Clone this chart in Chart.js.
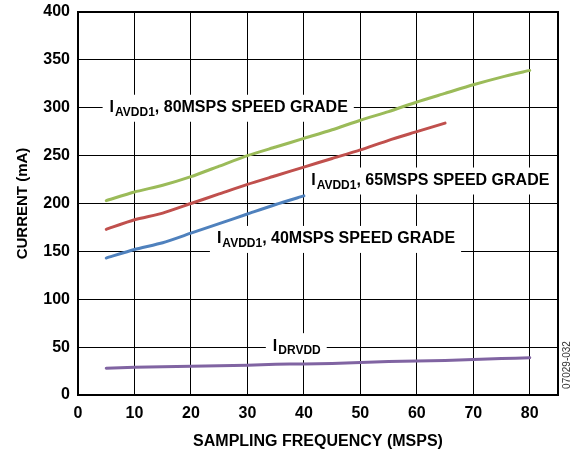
<!DOCTYPE html>
<html>
<head>
<meta charset="utf-8">
<script src="https://cdn.jsdelivr.net/npm/chart.js@4/dist/chart.umd.min.js"></script>
<style>
  html, body { margin: 0; padding: 0; background: #fff; }
  #wrap { width: 574px; height: 453px; }
</style>
</head>
<body>
<div id="wrap"><canvas id="myChart" width="574" height="453"></canvas></div>
<script>
// sampling frequency (MSPS)
const freq80 = [5, 10, 15, 20, 25, 30, 35, 40, 45, 50, 55, 60, 65, 70, 75, 80];
const freq65 = [5, 10, 15, 20, 25, 30, 35, 40, 45, 50, 55, 60, 65];
const freq40 = [5, 10, 15, 20, 25, 30, 35, 40];

// current (mA)
const avdd80 = [203, 212, 219, 228, 239, 250, 259, 268, 277, 287, 296, 306, 315, 324, 332, 339];
const avdd65 = [173, 183, 190, 200, 210, 220, 229, 238, 247, 256, 266, 275, 284];
const avdd40 = [143, 152, 159, 169, 179, 189, 199, 208];
const drvdd = [28, 29, 29.5, 30, 30.5, 31, 32, 32.5, 33, 34, 35, 35.5, 36, 37, 38, 39];

const xTicks = [0, 10, 20, 30, 40, 50, 60, 70, 80];
const yTicks = [0, 50, 100, 150, 200, 250, 300, 350, 400];

const FONT = '"Liberation Sans", Arial, sans-serif';

function pts(xs, ys) {
    return xs.map((x, i) => ({ x: x, y: ys[i] }));
}

// curve labels: [main, subscript, rest, x, y]
const labels = [
    ['I', 'AVDD1', ', 80MSPS SPEED GRADE', 5.6, 300],
    ['I', 'AVDD1', ', 65MSPS SPEED GRADE', 41.3, 224],
    ['I', 'AVDD1', ', 40MSPS SPEED GRADE', 24.6, 163],
    ['I', 'DRVDD', '', 34.5, 51]
];

const labelPlugin = {
    id: 'curveLabels',
    beforeDatasetsDraw(chart) {
        const ctx = chart.ctx;
        const xs = chart.scales.x, ys = chart.scales.y;
        ctx.save();
        ctx.textBaseline = 'middle';
        labels.forEach(l => {
            const px = xs.getPixelForValue(l[3]);
            const py = ys.getPixelForValue(l[4]);
            ctx.font = 'bold 16px ' + FONT;
            const w1 = ctx.measureText(l[0]).width;
            const w3 = ctx.measureText(l[2]).width;
            ctx.font = 'bold 12px ' + FONT;
            const w2 = ctx.measureText(l[1]).width;
            const w = w1 + w2 + w3;
            ctx.fillStyle = '#fff';
            ctx.fillRect(px - 7, py - 13, w + 14, 27);
            ctx.fillStyle = '#000';
            ctx.textAlign = 'left';
            ctx.font = 'bold 16px ' + FONT;
            ctx.fillText(l[0], px, py);
            ctx.font = 'bold 12px ' + FONT;
            ctx.fillText(l[1], px + w1 + 1, py + 5);
            ctx.font = 'bold 16px ' + FONT;
            ctx.fillText(l[2], px + w1 + w2 + 1, py);
        });
        // plot frame
        const a = chart.chartArea;
        ctx.strokeStyle = '#000';
        ctx.lineWidth = 2;
        ctx.strokeRect(a.left, a.top, a.right - a.left, a.bottom - a.top);
        ctx.restore();
    },
    afterDraw(chart) {
        const ctx = chart.ctx;
        ctx.save();
        ctx.translate(567, 365);
        ctx.rotate(-Math.PI / 2);
        ctx.font = '10px ' + FONT;
        ctx.fillStyle = '#333';
        ctx.textAlign = 'center';
        ctx.textBaseline = 'middle';
        ctx.fillText('07029-032', 0, 0);
        ctx.restore();
    }
};

const cht = document.getElementById('myChart').getContext('2d');

const myChart = new Chart(cht, {
    type: 'line',
    data: {
        datasets: [{
            label: 'IAVDD1 80MSPS',
            data: pts(freq80, avdd80),
            borderColor: '#9bbb59'
        }, {
            label: 'IAVDD1 65MSPS',
            data: pts(freq65, avdd65),
            borderColor: '#c0504d'
        }, {
            label: 'IAVDD1 40MSPS',
            data: pts(freq40, avdd40),
            borderColor: '#4f81bd'
        }, {
            label: 'IDRVDD',
            data: pts(freq80, drvdd),
            borderColor: '#8064a2'
        }]
    },
    options: {
        responsive: false,
        animation: false,
        layout: { padding: { left: 0, top: 12, right: 16, bottom: 0 } },
        elements: {
            point: { radius: 0 },
            line: { borderWidth: 3, tension: 0.2, borderCapStyle: 'round' }
        },
        plugins: {
            legend: { display: false },
            tooltip: { enabled: false }
        },
        scales: {
            x: {
                type: 'linear',
                min: 0,
                max: 85,
                afterBuildTicks: s => { s.ticks = xTicks.map(v => ({ value: v })); },
                afterFit: s => { s.height = 58; s.paddingLeft = 0; s.paddingRight = 0; },
                grid: { color: '#000', lineWidth: 1, drawTicks: false },
                border: { display: false },
                ticks: {
                    color: '#000',
                    padding: 9,
                    font: { family: FONT, size: 16, weight: 'bold' }
                },
                title: {
                    display: true,
                    text: 'SAMPLING FREQUENCY (MSPS)',
                    color: '#000',
                    padding: { top: 14, bottom: 2 },
                    font: { family: FONT, size: 16, weight: 'bold' }
                }
            },
            y: {
                min: 0,
                max: 400,
                afterBuildTicks: s => { s.ticks = yTicks.map(v => ({ value: v })); },
                afterFit: s => { s.width = 78; s.paddingTop = 0; s.paddingBottom = 0; },
                grid: { color: '#000', lineWidth: 1, drawTicks: false },
                border: { display: false },
                ticks: {
                    color: '#000',
                    padding: 8,
                    font: { family: FONT, size: 16, weight: 'bold' }
                },
                title: {
                    display: true,
                    text: 'CURRENT (mA)',
                    color: '#000',
                    padding: { top: 14, bottom: 12 },
                    font: { family: FONT, size: 15, weight: 'bold' }
                }
            }
        }
    },
    plugins: [labelPlugin]
});
</script>
</body>
</html>
